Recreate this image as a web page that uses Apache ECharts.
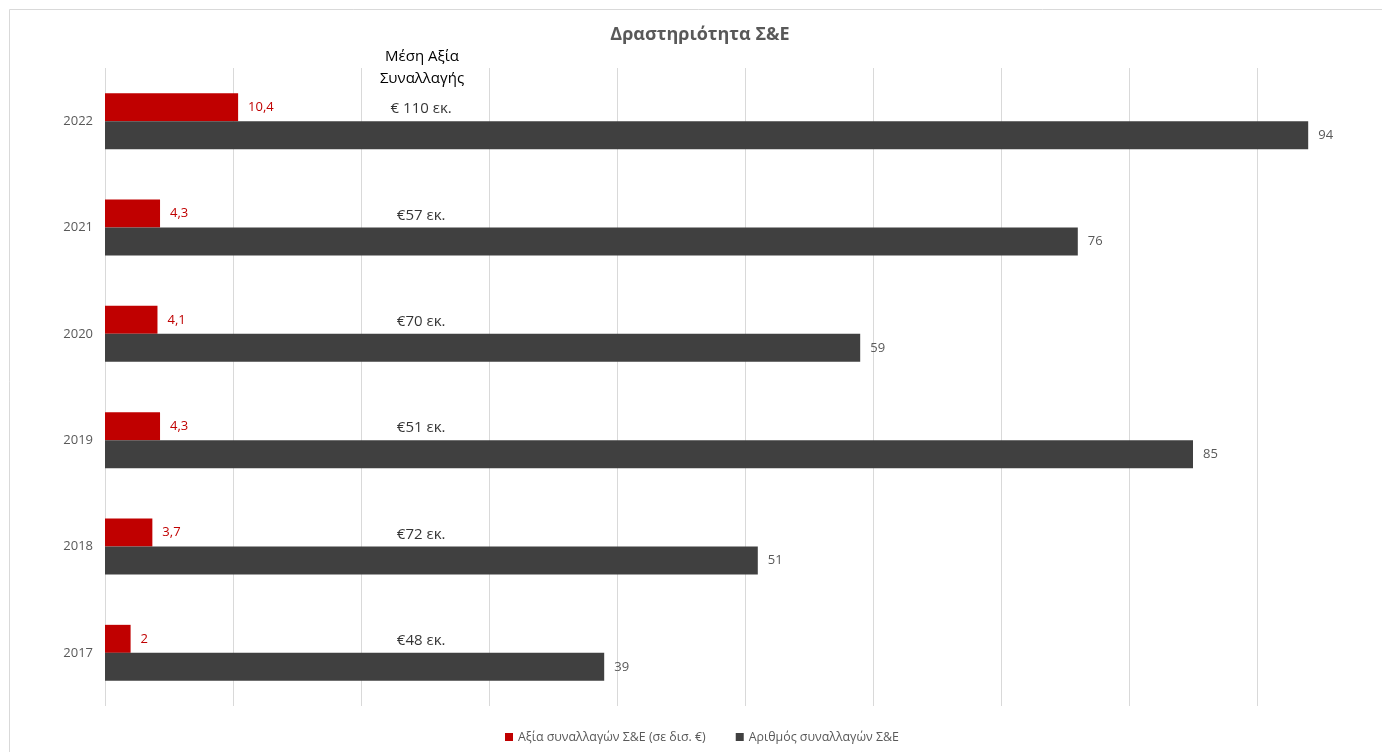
<!DOCTYPE html>
<html>
<head>
<meta charset="utf-8">
<script src="https://cdn.jsdelivr.net/npm/echarts@6/dist/echarts.min.js"></script>
<style>
  html, body { margin: 0; padding: 0; background: #fff; overflow: hidden; }
  #chart { width: 1386px; height: 752px; }
</style>
</head>
<body>
<div id="chart"></div>
<script>
// Years on the category axis (bottom to top)
const years = ['2017', '2018', '2019', '2020', '2021', '2022'];
// Deal value, billions of euro
const dealValue = [2, 3.7, 4.3, 4.1, 4.3, 10.4];
// Number of deals
const dealCount = [39, 51, 85, 59, 76, 94];
// Average deal value labels
const avgDeal = ['€48 εκ.', '€72 εκ.', '€51 εκ.', '€70 εκ.', '€57 εκ.', '€ 110 εκ.'];

const seriesNames = ['Αξία συναλλαγών Σ&Ε (σε δισ. €)', 'Αριθμός συναλλαγών Σ&Ε'];
const FONT = '"Open Sans", "Noto Sans", sans-serif';
const NOTE_X = 24.7; // horizontal position of the average-value notes, in axis units

const chart = echarts.init(document.getElementById('chart'));

chart.setOption({
  animation: false,
  backgroundColor: '#fff',
  textStyle: { fontFamily: FONT },
  graphic: [
    {
      type: 'rect',
      shape: { x: 9.5, y: 9.5, width: 1400, height: 800 },
      style: { fill: 'none', stroke: '#d9d9d9', lineWidth: 1 },
      silent: true, z: -1
    },
    {
      type: 'text',
      x: 700, y: 26,
      style: {
        text: 'Δραστηριότητα Σ&Ε',
        align: 'center',
        fontFamily: FONT, fontSize: 18, fontWeight: 'bold', fill: '#595959'
      }
    },
    {
      type: 'text',
      x: 422, y: 46,
      style: {
        text: 'Μέση Αξία\nΣυναλλαγής',
        align: 'center',
        fontFamily: FONT, fontSize: 15, lineHeight: 22, fill: '#000'
      }
    }
  ],
  legend: {
    data: seriesNames,
    bottom: 4,
    left: 500,
    itemWidth: 8, itemHeight: 8,
    itemGap: 30,
    icon: 'rect',
    textStyle: { fontFamily: FONT, fontSize: 12.4, color: '#595959' }
  },
  grid: { left: 105, top: 68, width: 1280, bottom: 46, containLabel: false },
  xAxis: {
    type: 'value',
    min: 0, max: 100, interval: 10,
    axisLabel: { show: false },
    axisLine: { show: false },
    axisTick: { show: false },
    splitLine: { lineStyle: { color: '#d9d9d9', width: 1 } }
  },
  yAxis: {
    type: 'category',
    data: years,
    axisLine: { show: false },
    axisTick: { show: false },
    axisLabel: { fontFamily: FONT, fontSize: 13, color: '#595959', margin: 12 }
  },
  series: [
    {
      name: seriesNames[0],
      type: 'bar',
      data: dealValue,
      barWidth: 28,
      barGap: '0%',
      itemStyle: { color: '#C00000' },
      label: {
        show: true, position: 'right', distance: 10,
        fontFamily: FONT, fontSize: 13, color: '#C00000',
        formatter: p => String(p.value).replace('.', ',')
      }
    },
    {
      name: seriesNames[1],
      type: 'bar',
      data: dealCount,
      barWidth: 28,
      barGap: '0%',
      itemStyle: { color: '#404040' },
      label: {
        show: true, position: 'right', distance: 10,
        fontFamily: FONT, fontSize: 13, color: '#595959'
      }
    },
    {
      name: 'avg',
      type: 'scatter',
      symbolSize: 0,
      silent: true,
      z: 5,
      data: years.map((y, i) => [NOTE_X, y, avgDeal[i]]),
      label: {
        show: true, position: 'inside', offset: [0, -12],
        fontFamily: FONT, fontSize: 15, color: '#000',
        formatter: p => p.value[2]
      }
    }
  ]
});
</script>
</body>
</html>
